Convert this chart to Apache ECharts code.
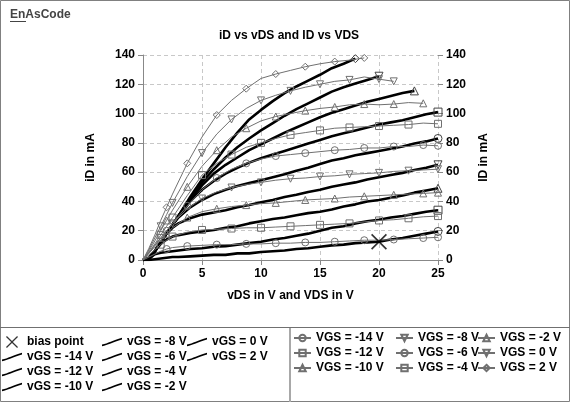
<!DOCTYPE html>
<html>
<head>
<meta charset="utf-8">
<script src="https://cdn.jsdelivr.net/npm/echarts@6/dist/echarts.min.js"></script>
<style>
  html, body { margin: 0; padding: 0; background: #fff; }
  #chart { width: 570px; height: 402px; }
</style>
</head>
<body>
<div id="chart"></div>
<script>
// vDS grid (V) for the thick iD curves
var vdsThick = [0, 0.5, 1, 1.5, 2, 2.5, 3, 4, 5, 6, 7, 8, 9, 10, 11, 12, 13, 14, 15, 16, 17, 18, 19, 20, 21, 22, 23, 24, 25];
// iD in mA, one array per vGS
var iD_m14 = [0, 0, 0.5, 1, 1.5, 2, 2, 2.5, 3, 3.5, 3.5, 4.5, 4.5, 5.5, 6, 6.5, 7.5, 8, 9, 10, 10.5, 11.5, 12, 12.5, 14, 15, 16.5, 18, 19.5];
var iD_m12 = [0, 0.5, 4, 5, 5.5, 6, 6.5, 7.5, 8, 9, 9.5, 10.5, 11.5, 12.5, 14, 15, 16.5, 18, 20, 22, 23, 25, 26.5, 27.5, 29, 30, 31.5, 33, 34];
var iD_m10 = [0, 1, 6, 11, 14, 16, 17, 18.5, 19.5, 20.5, 22, 23, 25, 26.5, 28, 29, 30.5, 32, 33, 34.5, 36.5, 38, 40, 41, 42.5, 44, 46, 47.5, 49];
var iD_m8 = [0, 1, 6, 12, 18, 22, 25, 28.5, 31, 32.5, 34, 36, 37.5, 39.5, 41, 43, 44.5, 46.5, 48, 50, 51.5, 53, 55, 56.5, 58, 59.5, 61.5, 63, 65];
var iD_m6 = [0, 1, 6, 12, 18, 24, 29, 36, 41, 45, 48, 50.5, 52.5, 54.5, 56.5, 58.5, 61, 63, 65.5, 68, 69.5, 71.5, 73, 74.5, 76, 77.5, 79.5, 81, 83];
var iD_m4 = [0, 1, 6, 12, 18, 24, 30, 40, 48, 54, 59, 63, 66.5, 69.5, 72, 74.5, 77, 79.5, 82, 84.5, 86.5, 88.5, 90.5, 92.5, 94, 95.5, 97.5, 99.5, 101];
var iD_m2 = [0, 1, 6, 12, 18, 24, 30, 41, 51, 59, 65, 70, 75, 79, 83, 87, 90.5, 94, 97.5, 100.5, 103, 105.5, 108, 110, 112, 114, 115.5, null, null];
var iD_0 = [0, 1, 6, 12, 18, 24, 30, 42, 53, 62, 70, 77, 83, 88.5, 93.5, 98.5, 103, 107, 111, 115, 118, 120.5, 123, 125.5, null, null, null, null, null];
var iD_p2 = [0, 1, 6, 12, 18, 24, 30, 43, 55, 66, 77, 87, 96, 102.5, 108.5, 114, 118.5, 122.5, 126.5, 131, 134, 137.5, null, null, null, null, null, null, null];

// VDS grid (V) for the thin ID curves
var vdsThin = [0, 0.5, 1, 1.5, 2, 2.5, 3.75, 5, 6.25, 7.5, 8.75, 10, 11.25, 12.5, 13.75, 15, 16.25, 17.5, 18.75, 20, 21.25, 22.5, 23.75, 25];
var ID_p2 = [0, 8, 17, 27, 36, 45, 66, 84, 99, 109, 117, 124, 127, 129.5, 132, 134, 135.5, 136.5, 138, null, null, null, null, null];
var ID_0 = [0, 7, 15, 23, 31, 39, 57, 73, 86, 96, 103.5, 109, 112.5, 115.5, 118, 120, 122, 123, 125, 123.5, 122, null, null, null];
var ID_m2 = [0, 6, 13, 20, 27, 34, 50, 64, 75, 84, 90, 95, 98, 100, 102, 103.5, 104.5, 106, 106.5, 106, 106.5, 107.5, 107, null];
var ID_m4 = [0, 5, 11, 17, 23, 29, 44, 58, 66, 72, 77, 80, 83, 85.5, 87, 88.5, 90, 90.5, 91, 91.5, 92, 92.5, 93.5, 93];
var ID_m6 = [0, 5, 10, 15, 20, 25, 37, 48, 56, 62, 66, 69, 71, 72, 73, 74, 75, 75.5, 76.5, 76.5, 77.5, 77.5, 78.5, 78];
var ID_m8 = [0, 5, 10, 15, 20, 25, 35, 42, 46.5, 49.5, 51.5, 53, 54.5, 55.5, 56, 57, 57.5, 58.5, 59, 59.5, 60.5, 61, 61.5, 62];
var ID_m10 = [0, 4.5, 9, 13.5, 18, 22, 29, 33, 35, 36.5, 37.5, 38.5, 39, 40, 41, 41.5, 42, 43, 43.5, 44, 44.5, 45, 45.5, 46];
var ID_m12 = [0, 3.5, 7, 10.5, 13.5, 16, 19, 20.5, 21, 21.5, 22, 22, 22.5, 23, 23.5, 24, 24.5, 25, 26, 27, 27.5, 28.5, 29.5, 30];
var ID_m14 = [0, 2, 4, 6, 7.5, 8.5, 9.5, 10, 10.5, 10.5, 11, 11, 11.5, 11.5, 12, 12, 12.5, 13, 13.5, 13.5, 14, 14.5, 15, 15.5];

var biasPoint = [20, 12.5];
var yTicks = [0, 20, 40, 60, 80, 100, 120, 140];
var xTicks = [0, 5, 10, 15, 20, 25];

var FONT = 'Arial, "Liberation Sans", sans-serif';
var thinColor = '#707070';
var crossPath = 'path://M0,1.5 L1.5,0 L10,8.5 L18.5,0 L20,1.5 L11.5,10 L20,18.5 L18.5,20 L10,11.5 L1.5,20 L0,18.5 L8.5,10 Z';
var downTri = 'path://M0,0 L10,0 L5,9 Z';
var thickIcon = 'path://M0,10 C7,9 13,5 24,2 L24,4 C13,7 7,11 0,12 Z';

// one entry per vGS: name, thick data, thin data, marker symbol
var curves = [
  ['-14', iD_m14, ID_m14, 'circle'],
  ['-12', iD_m12, ID_m12, 'rect'],
  ['-10', iD_m10, ID_m10, 'triangle'],
  ['-8', iD_m8, ID_m8, downTri],
  ['-6', iD_m6, ID_m6, 'circle'],
  ['-4', iD_m4, ID_m4, 'rect'],
  ['-2', iD_m2, ID_m2, 'triangle'],
  ['0', iD_0, ID_0, downTri],
  ['2', iD_p2, ID_p2, 'diamond']
];

function pairs(xs, ys) {
  var out = [];
  for (var i = 0; i < xs.length; i++) {
    if (ys[i] !== null) out.push([xs[i], ys[i]]);
  }
  return out;
}

var series = [];
// thick lines (iD vs vDS)
curves.forEach(function (c) {
  var d = pairs(vdsThick, c[1]);
  var last = d.length - 1;
  series.push({
    name: 'vGS = ' + c[0] + ' V',
    type: 'line',
    data: d,
    symbol: c[3],
    symbolSize: function (v, p) { return p.dataIndex === last ? 8 : 0; },
    lineStyle: { color: '#000', width: 2.6 },
    itemStyle: { color: 'rgba(255,255,255,0)', borderColor: '#444', borderWidth: 1 },
    z: 3
  });
});
// thin lines with markers (ID vs VDS)
curves.forEach(function (c, k) {
  var d = pairs(vdsThin, c[2]);
  var last = d.length - 1;
  var off = k % 2;
  series.push({
    name: 'VGS = ' + c[0] + ' V',
    type: 'line',
    yAxisIndex: 1,
    data: d,
    symbol: c[3],
    symbolSize: function (v, p) {
      var i = p.dataIndex;
      return (i === last || (i >= 3 && (i + off) % 2 === 0)) ? 7 : 0;
    },
    lineStyle: { color: thinColor, width: 1 },
    itemStyle: { color: 'rgba(255,255,255,0)', borderColor: thinColor, borderWidth: 1 },
    z: 4
  });
});
series.push({
  name: 'bias point',
  type: 'scatter',
  data: [biasPoint],
  symbol: crossPath,
  symbolSize: 16,
  itemStyle: { color: '#000' },
  z: 6
});

function thickItem(v) {
  return { name: 'vGS = ' + v + ' V', icon: thickIcon, itemStyle: { color: '#000', borderWidth: 0 } };
}
var legendText = { fontFamily: FONT, fontWeight: 'bold', fontSize: 12, color: '#000' };
function legendAt(left, top, w, h, gap, data) {
  return {
    orient: 'vertical', padding: 0, selectedMode: false, textStyle: legendText,
    left: left, top: top, itemWidth: w, itemHeight: h, itemGap: gap, data: data
  };
}

var chart = echarts.init(document.getElementById('chart'));
chart.setOption({
  animation: false,
  backgroundColor: '#fff',
  title: {
    text: 'iD vs vDS and ID vs VDS',
    left: 219, top: 30, padding: 0,
    textStyle: { fontFamily: FONT, fontWeight: 'bold', fontSize: 12, color: '#000' }
  },
  grid: { left: 143, right: 132, top: 55, bottom: 142 },
  xAxis: {
    type: 'value', min: xTicks[0], max: xTicks[xTicks.length - 1], interval: 5,
    name: 'vDS in V and VDS in V', nameLocation: 'middle', nameGap: 30,
    nameTextStyle: { fontFamily: FONT, fontWeight: 'bold', fontSize: 12, color: '#000' },
    axisLine: { lineStyle: { color: '#888', width: 1 } },
    axisTick: { inside: false, length: 5, lineStyle: { color: '#888' } },
    axisLabel: { fontFamily: FONT, fontWeight: 'bold', fontSize: 12, color: '#000', margin: 8 },
    splitLine: { show: true, lineStyle: { color: '#c8c8c8', type: [4, 3] } }
  },
  yAxis: [{
    type: 'value', min: yTicks[0], max: yTicks[yTicks.length - 1], interval: 20,
    name: 'iD in mA', nameLocation: 'middle', nameGap: 46, nameRotate: 90,
    nameTextStyle: { fontFamily: FONT, fontWeight: 'bold', fontSize: 12, color: '#000' },
    axisLine: { show: true, lineStyle: { color: '#888', width: 1 } },
    axisTick: { show: true, length: 5, lineStyle: { color: '#888' } },
    axisLabel: { fontFamily: FONT, fontWeight: 'bold', fontSize: 12, color: '#000', margin: 8 },
    splitLine: { show: true, lineStyle: { color: '#c8c8c8', type: [4, 3] } }
  }, {
    type: 'value', position: 'right', min: yTicks[0], max: yTicks[yTicks.length - 1], interval: 20,
    name: 'ID in mA', nameLocation: 'middle', nameGap: 40, nameRotate: 90,
    nameTextStyle: { fontFamily: FONT, fontWeight: 'bold', fontSize: 12, color: '#000' },
    axisLine: { show: false },
    axisTick: { show: true, length: 5, lineStyle: { color: '#888' } },
    axisLabel: { fontFamily: FONT, fontWeight: 'bold', fontSize: 12, color: '#000', margin: 8 },
    splitLine: { show: false }
  }],
  legend: [
    legendAt(2, 336, 20, 12, 3, [{ name: 'bias point', icon: crossPath, itemStyle: { color: '#000' } },
      thickItem('-14'), thickItem('-12'), thickItem('-10')]),
    legendAt(102, 336, 20, 12, 3, [thickItem('-8'), thickItem('-6'), thickItem('-4'), thickItem('-2')]),
    legendAt(187, 336, 20, 12, 3, [thickItem('0'), thickItem('2')]),
    legendAt(293, 332, 17, 8, 3, ['VGS = -14 V', 'VGS = -12 V', 'VGS = -10 V']),
    legendAt(395, 332, 17, 8, 3, ['VGS = -8 V', 'VGS = -6 V', 'VGS = -4 V']),
    legendAt(477, 332, 17, 8, 3, ['VGS = -2 V', 'VGS = 0 V', 'VGS = 2 V'])
  ],
  graphic: [
    { type: 'rect', shape: { x: 0.5, y: 0.5, width: 569, height: 401 }, style: { fill: null, stroke: '#808080', lineWidth: 1 }, silent: true },
    { type: 'line', shape: { x1: 0, y1: 327.5, x2: 570, y2: 327.5 }, style: { stroke: '#707070', lineWidth: 1 }, silent: true },
    { type: 'line', shape: { x1: 290, y1: 328, x2: 290, y2: 402 }, style: { stroke: '#a8a8a8', lineWidth: 2 }, silent: true },
    { type: 'text', x: 10, y: 9, style: { text: 'EnAsCode', font: 'bold 12px ' + FONT, fill: '#444' }, silent: true },
    { type: 'line', shape: { x1: 10, y1: 21.5, x2: 26, y2: 21.5 }, style: { stroke: '#444', lineWidth: 1 }, silent: true }
  ],
  series: series
});
</script>
</body>
</html>
